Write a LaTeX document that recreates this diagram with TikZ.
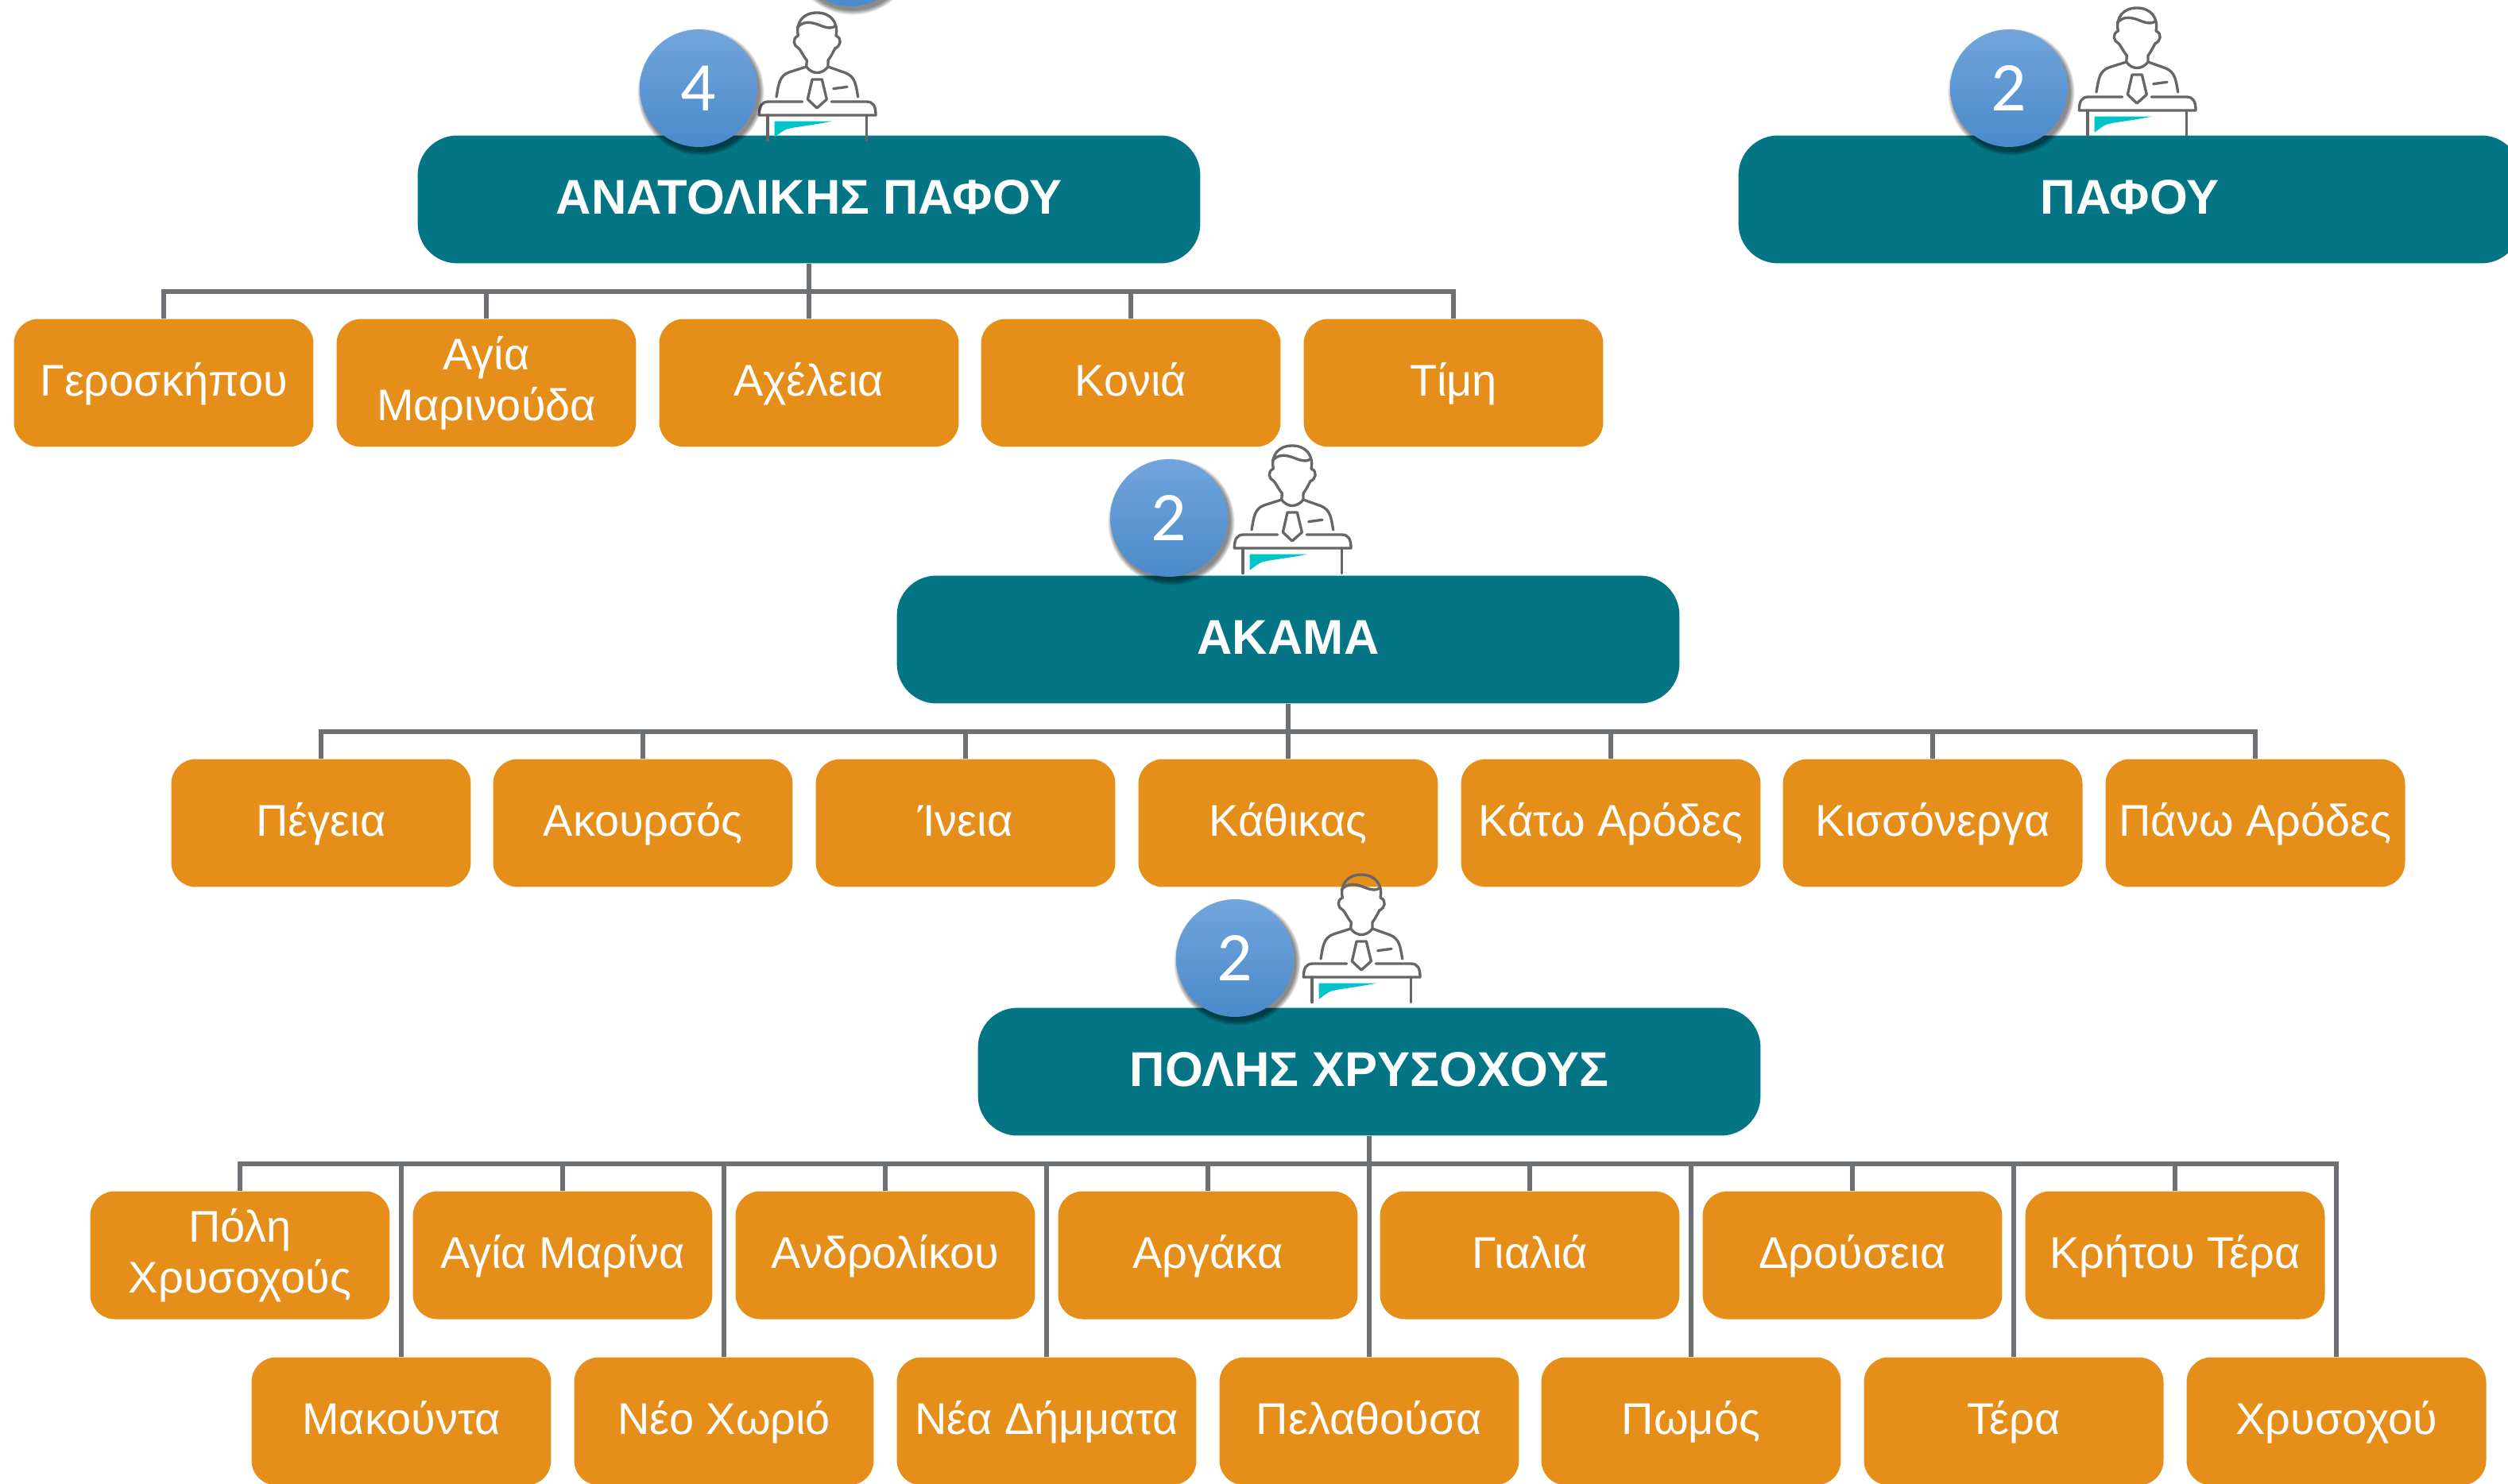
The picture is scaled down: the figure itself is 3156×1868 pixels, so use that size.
\documentclass[tikz,border=0pt]{standalone}
\usepackage{fontspec}
\setmainfont{Liberation Sans}
\newfontfamily\badgefont{Carlito}
\definecolor{teal1}{HTML}{037585}
\definecolor{orange1}{HTML}{E58E1A}
\definecolor{conn1}{HTML}{6D7075}
\definecolor{icon1}{HTML}{666666}
\definecolor{swoosh1}{HTML}{00C4C8}
\definecolor{btop}{HTML}{72A5DC}
\definecolor{bbot}{HTML}{4A8ACB}
\newcommand{\labstrut}{\rule[-11.8pt]{0pt}{42.8pt}}
\newcommand{\lowered}[1]{\raisebox{-8pt}{#1}}
\newcommand{\softshadow}[2]{\foreach \r in {74,74.8,75.6,76.4,77.2,78,78.8,79.6} \fill[black,opacity=0.07] (#1+3,#2+5) circle[radius=\r];}
\tikzset{
 parentbox/.style={rectangle,rounded corners=1cm,fill=teal1,text=white,minimum width=19.7cm,minimum height=3.22cm,inner sep=0pt,text height=35pt,text depth=13.4pt,font=\fontsize{35}{40}\selectfont\bfseries},
 childbox/.style={rectangle,rounded corners=0.62cm,fill=orange1,text=white,minimum width=7.54cm,minimum height=3.22cm,inner sep=0pt,align=center,font=\fontsize{31.8}{36.5}\selectfont,execute at begin node=\labstrut,execute at end node=\labstrut},
 conn/.style={draw=conn1,line width=3.2pt},
 badge/.style={circle,minimum size=2.96cm,inner sep=0pt,top color=btop,bottom color=bbot,text=white,font=\fontsize{50}{50}\selectfont\badgefont},
 person/.pic={
  \begin{scope}[scale=1/3,shift={(-743,-48)},draw=icon1,line width=1.9pt,line cap=round,line join=round]
   \fill[swoosh1] (583,458) -- (800,458) .. controls (700,478) and (640,480) .. (620,492) .. controls (605,500) and (595,510) .. (583,518) -- cycle;
   \draw (705,228) .. controls (690,210) and (682,190) .. (674,182) .. controls (655,175) and (648,145) .. (672,135) .. controls (662,85) and (690,48) .. (743,48) .. controls (795,48) and (825,85) .. (815,135) .. controls (840,145) and (832,175) .. (812,182) .. controls (805,195) and (795,215) .. (785,228);
   \draw (668,105) .. controls (690,80) and (715,82) .. (745,92) .. controls (770,102) and (795,112) .. (812,98);
   \draw (590,366) .. controls (598,320) and (600,285) .. (640,272) -- (703,252) -- (705,228);
   \draw (898,366) .. controls (890,320) and (888,290) .. (850,275) -- (785,252) -- (785,228);
   \draw (703,252) .. controls (725,282) and (762,282) .. (785,252);
   \draw (725,300) -- (762,300) -- (780,375) -- (743,408) -- (708,375) -- cycle;
   \draw (805,335) -- (857,328);
   \draw (688,384) -- (560,384) .. controls (535,384) and (525,400) .. (525,435) -- (965,435) .. controls (965,400) and (955,384) .. (930,384) -- (798,384);
   \draw (557,435) -- (557,530);
   \draw (931,435) -- (931,530);
  \end{scope}
 }
}
\begin{document}
\begin{tikzpicture}[x=0.02cm,y=-0.02cm]
\path[use as bounding box,clip] (0,0) rectangle (3156,1868);
\fill[white] (0,0) rectangle (3156,1868);
\coordinate (busA) at (0,367);
\coordinate (busB) at (0,921);
\coordinate (busC) at (0,1465);
\node[parentbox] (anat) at (1018,251) {ΑΝΑΤΟΛΙΚΗΣ ΠΑΦΟΥ};
\node[parentbox] (paf) at (2680,251) {ΠΑΦΟΥ};
\node[parentbox] (aka) at (1621,805) {ΑΚΑΜΑ};
\node[parentbox] (pol) at (1723,1349) {ΠΟΛΗΣ ΧΡΥΣΟΧΟΥΣ};

\node[childbox] (a1) at (206,482) {Γεροσκήπου};
\node[childbox] (a2) at (612,482) {\lowered{Αγία}\\\lowered{Μαρινούδα}};
\node[childbox] (a3) at (1018,482) {Αχέλεια};
\node[childbox] (a4) at (1423,482) {Κονιά};
\node[childbox] (a5) at (1829,482) {Τίμη};

\node[childbox] (b1) at (404,1036) {Πέγεια};
\node[childbox] (b2) at (809,1036) {Ακουρσός};
\node[childbox] (b3) at (1215,1036) {Ίνεια};
\node[childbox] (b4) at (1621,1036) {Κάθικας};
\node[childbox] (b5) at (2027,1036) {Κάτω Αρόδες};
\node[childbox] (b6) at (2432,1036) {Κισσόνεργα};
\node[childbox] (b7) at (2838,1036) {Πάνω Αρόδες};

\node[childbox] (c1) at (302,1580) {\lowered{Πόλη}\\\lowered{Χρυσοχούς}};
\node[childbox] (c2) at (708,1580) {Αγία Μαρίνα};
\node[childbox] (c3) at (1114,1580) {Ανδρολίκου};
\node[childbox] (c4) at (1520,1580) {Αργάκα};
\node[childbox] (c5) at (1925,1580) {Γιαλιά};
\node[childbox] (c6) at (2331,1580) {Δρούσεια};
\node[childbox] (c7) at (2737,1580) {Κρήτου Τέρα};

\node[childbox] (d1) at (505,1789) {Μακούντα};
\node[childbox] (d2) at (911,1789) {Νέο Χωριό};
\node[childbox] (d3) at (1317,1789) {Νέα Δήμματα};
\node[childbox] (d4) at (1723,1789) {Πελαθούσα};
\node[childbox] (d5) at (2128,1789) {Πωμός};
\node[childbox] (d6) at (2534,1789) {Τέρα};
\node[childbox] (d7) at (2940,1789) {Χρυσοχού};

\foreach \c in {a1,a2,a3,a4,a5}
  \draw[conn] (anat.south) -- (anat.south |- busA) -| (\c.north);
\foreach \c in {b1,b2,b3,b4,b5,b6,b7}
  \draw[conn] (aka.south) -- (aka.south |- busB) -| (\c.north);
\foreach \c in {c1,c2,c3,c4,c5,c6,c7,d1,d2,d3,d4,d5,d6,d7}
  \draw[conn] (pol.south) -- (pol.south |- busC) -| (\c.north);

\pic at (1028,16) {person};
\pic at (2689,10) {person};
\pic at (1626,561) {person};
\pic at (1713,1101) {person};

\softshadow{1070}{-66}
\node[badge] (topb) at (1070,-66) {};
\softshadow{879}{111}
\node[badge] (b4n) at (879,111) {4};
\softshadow{2528}{111}
\node[badge] (b2p) at (2528,111) {2};
\softshadow{1471}{652}
\node[badge] (b2a) at (1471,652) {2};
\softshadow{1554}{1206}
\node[badge] (b2c) at (1554,1206) {2};
\end{tikzpicture}
\end{document}
